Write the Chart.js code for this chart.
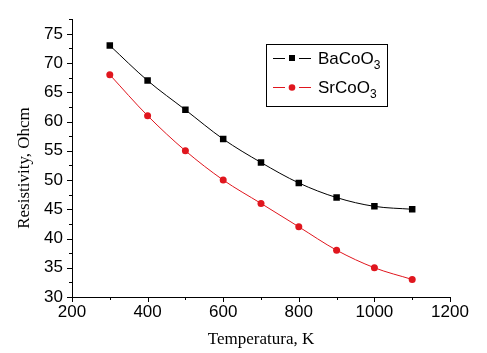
<!DOCTYPE html>
<html>
<head>
<meta charset="utf-8">
<script src="https://cdn.jsdelivr.net/npm/chart.js@4"></script>
<style>
  html,body{margin:0;padding:0;background:#fff;}
  #wrap{width:487px;height:353px;position:relative;}
</style>
</head>
<body>
<div id="wrap"><canvas id="c" width="487" height="353"></canvas></div>
<script>
const temperatures = [300, 400, 500, 600, 700, 800, 900, 1000, 1100];
const baCoO3 = [73, 67, 62, 57, 53, 49.5, 47, 45.5, 45];
const srCoO3 = [68, 61, 55, 50, 46, 42, 38, 35, 33];
const seriesLabels = ['BaCoO3', 'SrCoO3'];
const xTitle = 'Temperatura, K';
const yTitle = 'Resistivity, Ohcm';

const SANS = "'Liberation Sans', Arial, sans-serif";
const SERIF = "'Liberation Serif', 'Times New Roman', serif";

function splitSub(label){
  const m = label.match(/^(.*?)(\d+)$/);
  return m ? [m[1], m[2]] : [label, ''];
}

const decorPlugin = {
  id: 'decor',
  afterDraw(chart){
    const ctx = chart.ctx;
    const xs = chart.scales.x, ys = chart.scales.y;
    const ca = chart.chartArea;
    ctx.save();
    ctx.strokeStyle = '#000';
    ctx.lineWidth = 1;
    // y ticks (major every 5, minor every 2.5)
    ys.ticks.forEach(t => {
      const py = Math.round(ys.getPixelForValue(t.value)) + 0.5;
      const len = (Math.abs(t.value % 5) < 1e-6) ? 5 : 3;
      ctx.beginPath();
      ctx.moveTo(ca.left, py);
      ctx.lineTo(ca.left - len, py);
      ctx.stroke();
    });
    // x ticks (major every 200, minor every 100)
    xs.ticks.forEach(t => {
      const px = Math.round(xs.getPixelForValue(t.value)) + 0.5;
      const len = (Math.abs(t.value % 200) < 1e-6) ? 5 : 3;
      ctx.beginPath();
      ctx.moveTo(px, ca.bottom);
      ctx.lineTo(px, ca.bottom + len);
      ctx.stroke();
    });
    // axis titles
    ctx.fillStyle = '#000';
    ctx.font = '17px ' + SERIF;
    ctx.textAlign = 'center';
    ctx.textBaseline = 'middle';
    ctx.fillText(xTitle, (ca.left + ca.right) / 2, 340);
    ctx.save();
    ctx.translate(25, 168);
    ctx.rotate(-Math.PI / 2);
    ctx.fillText(yTitle, 0, 0);
    ctx.restore();

    // legend
    const bx = 266, by = 44, bw = 121, bh = 62;
    ctx.strokeStyle = '#000';
    ctx.lineWidth = 1;
    ctx.strokeRect(bx + 0.5, by + 0.5, bw, bh);
    const rows = [58, 87];
    chart.data.datasets.forEach((ds, i) => {
      const cy = rows[i];
      ctx.strokeStyle = ds.borderColor;
      ctx.lineWidth = 1;
      ctx.beginPath();
      ctx.moveTo(273, cy + 0.5); ctx.lineTo(285, cy + 0.5);
      ctx.moveTo(299, cy + 0.5); ctx.lineTo(311, cy + 0.5);
      ctx.stroke();
      ctx.fillStyle = ds.pointBackgroundColor;
      if (ds.pointStyle === 'rect') {
        ctx.fillRect(289, cy - 3, 6, 6);
      } else {
        ctx.beginPath();
        ctx.arc(292, cy + 0.5, 3.3, 0, Math.PI * 2);
        ctx.fill();
      }
      const [main, sub] = splitSub(ds.label);
      ctx.fillStyle = '#000';
      ctx.textAlign = 'left';
      ctx.textBaseline = 'alphabetic';
      ctx.font = '17px ' + SANS;
      ctx.fillText(main, 318, cy + 6);
      const w = ctx.measureText(main).width;
      ctx.font = '12px ' + SANS;
      ctx.fillText(sub, 318 + w, cy + 11);
    });
    ctx.restore();
  }
};

new Chart(document.getElementById('c'), {
  type: 'line',
  data: {
    labels: temperatures,
    datasets: [
      {
        label: seriesLabels[0],
        data: temperatures.map((t, i) => ({x: t, y: baCoO3[i]})),
        borderColor: '#000000',
        backgroundColor: '#000000',
        pointBackgroundColor: '#000000',
        pointBorderColor: '#000000',
        pointStyle: 'rect',
        pointRadius: 4.6,
        pointBorderWidth: 0,
        borderWidth: 1,
        tension: 0.4,
        cubicInterpolationMode: 'monotone'
      },
      {
        label: seriesLabels[1],
        data: temperatures.map((t, i) => ({x: t, y: srCoO3[i]})),
        borderColor: '#e0161e',
        backgroundColor: '#e0161e',
        pointBackgroundColor: '#e0161e',
        pointBorderColor: '#e0161e',
        pointStyle: 'circle',
        pointRadius: 3.5,
        pointBorderWidth: 0,
        borderWidth: 1,
        tension: 0.4,
        cubicInterpolationMode: 'monotone'
      }
    ]
  },
  options: {
    responsive: false,
    animation: false,
    devicePixelRatio: 1,
    layout: { padding: { top: 17, right: 37, left: 0, bottom: 0 } },
    plugins: { legend: { display: false }, tooltip: { enabled: false } },
    scales: {
      x: {
        type: 'linear',
        min: 200, max: 1200,
        afterFit(s){ s.height = 56; },
        ticks: {
          stepSize: 100,
          autoSkip: false,
          maxRotation: 0,
          padding: 5,
          color: '#000',
          font: { family: SANS, size: 17 },
          callback: v => (v % 200 === 0 ? String(v) : '')
        },
        grid: { display: false, drawTicks: false },
        border: { display: true, color: '#000', width: 1 }
      },
      y: {
        type: 'linear',
        min: 30, max: 77.5,
        afterFit(s){ s.width = 72; },
        ticks: {
          stepSize: 2.5,
          autoSkip: false,
          padding: 9,
          color: '#000',
          font: { family: SANS, size: 17 },
          callback: v => (v % 5 === 0 ? String(v) : '')
        },
        grid: { display: false, drawTicks: false },
        border: { display: true, color: '#000', width: 1 }
      }
    }
  },
  plugins: [decorPlugin]
});
</script>
</body>
</html>
